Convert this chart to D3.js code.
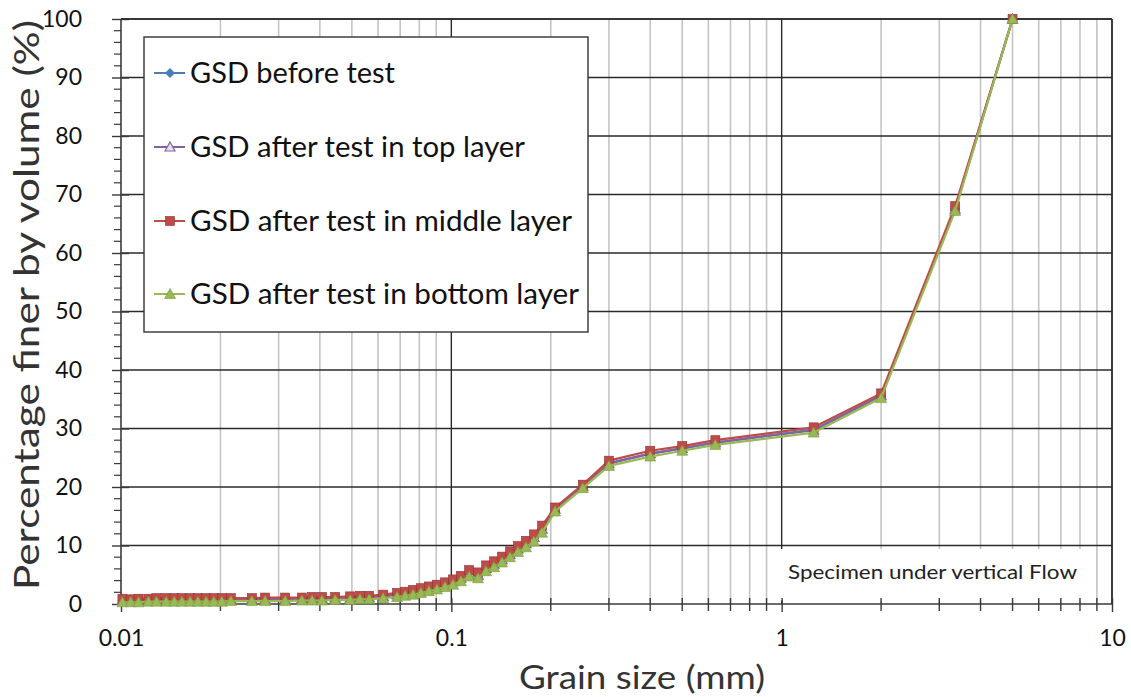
<!DOCTYPE html>
<html>
<head>
<meta charset="utf-8">
<script src="https://cdn.jsdelivr.net/npm/d3@7"></script>
<style>
  html, body { margin: 0; padding: 0; background: #fff; }
  svg { display: block; font-family: Lato, "Open Sans", sans-serif; }
</style>
</head>
<body>
<svg id="chart" width="1131" height="697"></svg>
<script>
// ---------- DATA ----------
const grainSizes = [0.0101, 0.0107, 0.0113, 0.0121, 0.0128, 0.0137, 0.0145, 0.0153, 0.0162, 0.0171,
  0.0181, 0.0191, 0.0202, 0.0215, 0.0249, 0.0273, 0.0314, 0.0353, 0.0379, 0.0406,
  0.0445, 0.0494, 0.0529, 0.0564, 0.0622, 0.0685, 0.0725, 0.0766, 0.0809, 0.0855,
  0.0905, 0.0957, 0.1012, 0.1069, 0.1132, 0.1205, 0.1274, 0.1347, 0.1424, 0.1505,
  0.1592, 0.1683, 0.1779, 0.1882, 0.206, 0.25, 0.3, 0.4, 0.5, 0.63,
  1.25, 2, 3.35, 5];

const beforeTest = [0.6, 0.6, 0.6, 0.6, 0.7, 0.7, 0.7, 0.7, 0.7, 0.7,
  0.7, 0.7, 0.7, 0.8, 0.8, 0.8, 0.8, 0.9, 0.9, 0.9,
  1.0, 1.0, 1.1, 1.1, 1.3, 1.6, 1.8, 2.0, 2.3, 2.6,
  2.9, 3.3, 3.8, 4.4, 5.3, 4.9, 6.1, 6.8, 7.6, 8.5,
  9.4, 10.3, 11.3, 12.8, 16.2, 20.1, 24.1, 25.7, 26.6, 27.6,
  29.8, 35.6, 67.6, 100];

const topLayer = [0.6, 0.6, 0.7, 0.7, 0.7, 0.7, 0.7, 0.7, 0.7, 0.7,
  0.7, 0.7, 0.8, 0.8, 0.8, 0.8, 0.8, 0.9, 0.9, 0.9,
  1.0, 1.0, 1.1, 1.1, 1.3, 1.6, 1.8, 2.0, 2.3, 2.6,
  2.9, 3.3, 3.8, 4.4, 5.3, 4.9, 6.1, 6.8, 7.6, 8.5,
  9.4, 10.3, 11.4, 12.8, 16.2, 20.1, 24.0, 25.7, 26.6, 27.6,
  29.7, 35.6, 67.5, 100];

const middleLayer = [0.9, 0.8, 0.9, 0.9, 1.0, 1.0, 1.0, 1.0, 1.0, 1.0,
  1.0, 1.0, 1.0, 1.0, 1.0, 1.1, 1.1, 1.1, 1.2, 1.2,
  1.2, 1.3, 1.4, 1.4, 1.6, 1.9, 2.1, 2.4, 2.7, 3.0,
  3.3, 3.7, 4.2, 4.8, 5.8, 5.4, 6.6, 7.3, 8.1, 9.0,
  9.9, 10.8, 11.9, 13.4, 16.5, 20.4, 24.5, 26.2, 27.0, 28.0,
  30.2, 36.0, 68.0, 100];

const bottomLayer = [0.3, 0.3, 0.3, 0.4, 0.4, 0.4, 0.4, 0.4, 0.4, 0.4,
  0.4, 0.4, 0.4, 0.5, 0.5, 0.5, 0.5, 0.6, 0.6, 0.6,
  0.7, 0.7, 0.8, 0.8, 1.0, 1.2, 1.4, 1.6, 1.9, 2.2,
  2.5, 2.9, 3.3, 3.9, 4.7, 4.4, 5.6, 6.3, 7.1, 8.0,
  8.9, 9.7, 10.7, 12.2, 15.8, 19.8, 23.6, 25.2, 26.2, 27.2,
  29.3, 35.2, 67.2, 100];

const seriesNames = ["GSD before test", "GSD after test in top layer",
  "GSD after test in middle layer", "GSD after test in bottom layer"];
const xTickValues = [0.01, 0.1, 1, 10];
const xTickLabels = ["0.01", "0.1", "1", "10"];
const yTickValues = [0, 10, 20, 30, 40, 50, 60, 70, 80, 90, 100];
const xTitle = "Grain size (mm)";
const yTitle = "Percentage finer by volume (%)";
const annotation = "Specimen under vertical Flow";

// ---------- LAYOUT ----------
const svg = d3.select("#chart");
const L = 121, R = 1112, T = 19, B = 604;
const x = d3.scaleLog().domain([0.01, 10]).range([L, R]);
const y = d3.scaleLinear().domain([0, 100]).range([B, T]);

const series = [
  { name: seriesNames[0], values: beforeTest, color: "#4A7EBB", marker: "diamond" },
  { name: seriesNames[1], values: topLayer, color: "#8064A2", marker: "openTri" },
  { name: seriesNames[2], values: middleLayer, color: "#BE4B48", marker: "square" },
  { name: seriesNames[3], values: bottomLayer, color: "#98B954", marker: "triangle" }
];

// ---------- GRID ----------
const minorX = [];
for (let d = 0.01; d < 10; d *= 10) {
  for (let k = 2; k <= 9; k++) minorX.push(+(d * k).toPrecision(3));
}
const grid = svg.append("g");
grid.selectAll("line.minor").data(minorX).join("line")
  .attr("x1", d => x(d)).attr("x2", d => x(d))
  .attr("y1", T).attr("y2", B)
  .attr("stroke", "#C4C4C4").attr("stroke-width", 1.6);
grid.selectAll("line.hmaj").data(yTickValues.slice(1)).join("line")
  .attr("x1", L).attr("x2", R)
  .attr("y1", d => y(d)).attr("y2", d => y(d))
  .attr("stroke", "#2a2a2a").attr("stroke-width", 1.4);
grid.selectAll("line.vmaj").data(xTickValues.slice(1)).join("line")
  .attr("x1", d => x(d)).attr("x2", d => x(d))
  .attr("y1", T).attr("y2", B)
  .attr("stroke", "#2a2a2a").attr("stroke-width", 1.4);

// annotation box (white background covering grid)
const annG = svg.append("g");
annG.append("rect")
  .attr("x", x(0.91)).attr("y", y(9.4))
  .attr("width", x(8.9) - x(0.91)).attr("height", y(0.6) - y(9.4))
  .attr("fill", "#fff");

// ---------- AXES ----------
const axisColor = "#3a3a3a";
// bottom axis
const xAxis = d3.axisBottom(x).tickValues(xTickValues)
  .tickFormat((d, i) => xTickLabels[i]).tickSize(8).tickPadding(18);
const gx = svg.append("g").attr("transform", `translate(0,${B})`).call(xAxis);
gx.select(".domain").remove();
gx.selectAll(".tick line").attr("y1", -6).attr("y2", 8).attr("stroke", axisColor).attr("stroke-width", 1.4);
gx.selectAll(".tick text").attr("font-size", 23).attr("fill", "#111")
  .attr("font-family", "Lato, 'Open Sans', sans-serif");
gx.selectAll("line.mt").data(minorX).join("line")
  .attr("x1", d => x(d)).attr("x2", d => x(d)).attr("y1", -6).attr("y2", 7)
  .attr("stroke", axisColor).attr("stroke-width", 1.4);
svg.append("line").attr("x1", L).attr("x2", R).attr("y1", B).attr("y2", B)
  .attr("stroke", axisColor).attr("stroke-width", 1.6);

// left axis
const yAxis = d3.axisLeft(y).tickValues(yTickValues).tickSize(9).tickPadding(30);
const gy = svg.append("g").attr("transform", `translate(${L},0)`).call(yAxis);
gy.select(".domain").remove();
gy.selectAll(".tick line").attr("x1", -9).attr("x2", 8).attr("stroke", axisColor).attr("stroke-width", 1.4);
gy.selectAll(".tick text").attr("font-size", 23).attr("fill", "#111")
  .attr("font-family", "Lato, 'Open Sans', sans-serif");
const minorY = d3.range(0, 101, 2).filter(v => v % 10 !== 0);
gy.selectAll("line.my").data(minorY).join("line")
  .attr("x1", -7).attr("x2", 0).attr("y1", d => y(d)).attr("y2", d => y(d))
  .attr("stroke", axisColor).attr("stroke-width", 1.2);
svg.append("line").attr("x1", L).attr("x2", L).attr("y1", T).attr("y2", B)
  .attr("stroke", axisColor).attr("stroke-width", 1.6);

// plot frame top/right
svg.append("line").attr("x1", L).attr("x2", R).attr("y1", T).attr("y2", T)
  .attr("stroke", "#2a2a2a").attr("stroke-width", 1.4);
svg.append("line").attr("x1", R).attr("x2", R).attr("y1", T).attr("y2", B)
  .attr("stroke", "#2a2a2a").attr("stroke-width", 1.4);

// annotation text
annG.append("text")
  .attr("x", 788).attr("y", y(5.1))
  .attr("dominant-baseline", "middle")
  .attr("font-size", 20).attr("fill", "#222")
  .attr("textLength", 289).attr("lengthAdjust", "spacingAndGlyphs")
  .text(annotation);

// ---------- SERIES ----------
const line = d3.line().x(d => x(d[0])).y(d => y(d[1]));
function drawMarker(g, type, color, cx, cy) {
  if (type === "square") {
    g.append("rect").attr("x", cx - 4.5).attr("y", cy - 4.5).attr("width", 9).attr("height", 9)
      .attr("fill", color).attr("stroke", "#8c3532").attr("stroke-width", 0.6);
  } else if (type === "triangle") {
    g.append("path").attr("d", `M${cx},${cy - 5.5}L${cx + 5.5},${cy + 4.5}L${cx - 5.5},${cy + 4.5}Z`)
      .attr("fill", color).attr("stroke", "#7a9940").attr("stroke-width", 0.6);
  } else if (type === "openTri") {
    g.append("path").attr("d", `M${cx},${cy - 5}L${cx + 5},${cy + 4}L${cx - 5},${cy + 4}Z`)
      .attr("fill", "#e8e0f0").attr("stroke", color).attr("stroke-width", 1.2);
  } else {
    g.append("path").attr("d", `M${cx},${cy - 5}L${cx + 5},${cy}L${cx},${cy + 5}L${cx - 5},${cy}Z`)
      .attr("fill", color);
  }
}
series.forEach(s => {
  const pts = grainSizes.map((g, i) => [g, s.values[i]]);
  const g = svg.append("g");
  g.append("path").datum(pts).attr("d", line)
    .attr("fill", "none").attr("stroke", s.color).attr("stroke-width", 2.2)
    .attr("stroke-linejoin", "round");
  pts.forEach(p => drawMarker(g, s.marker, s.color, x(p[0]), y(p[1])));
});

// ---------- LEGEND ----------
const lg = svg.append("g");
lg.append("rect").attr("x", 144).attr("y", 37).attr("width", 444).attr("height", 295)
  .attr("fill", "#fff").attr("stroke", "#333").attr("stroke-width", 1.4);
const rowY = [73, 147, 221, 294];
const legendWidths = [205, 335, 382, 389];
series.forEach((s, i) => {
  const cy = rowY[i];
  lg.append("line").attr("x1", 154).attr("x2", 185).attr("y1", cy).attr("y2", cy)
    .attr("stroke", s.color).attr("stroke-width", 2);
  drawMarker(lg, s.marker, s.color, 170, cy);
  lg.append("text").attr("x", 190).attr("y", cy + 10)
    .attr("font-size", 29).attr("fill", "#111")
    .attr("textLength", legendWidths[i]).attr("lengthAdjust", "spacingAndGlyphs")
    .text(s.name);
});

// ---------- TITLES ----------
svg.append("text").attr("x", 519).attr("y", 689)
  .attr("font-size", 32).attr("fill", "#333")
  .attr("textLength", 246).attr("lengthAdjust", "spacingAndGlyphs")
  .text(xTitle);
svg.append("text").attr("transform", `translate(39,590) rotate(-90)`)
  .attr("font-size", 34).attr("fill", "#333")
  .attr("textLength", 570).attr("lengthAdjust", "spacingAndGlyphs")
  .text(yTitle);
</script>
</body>
</html>
